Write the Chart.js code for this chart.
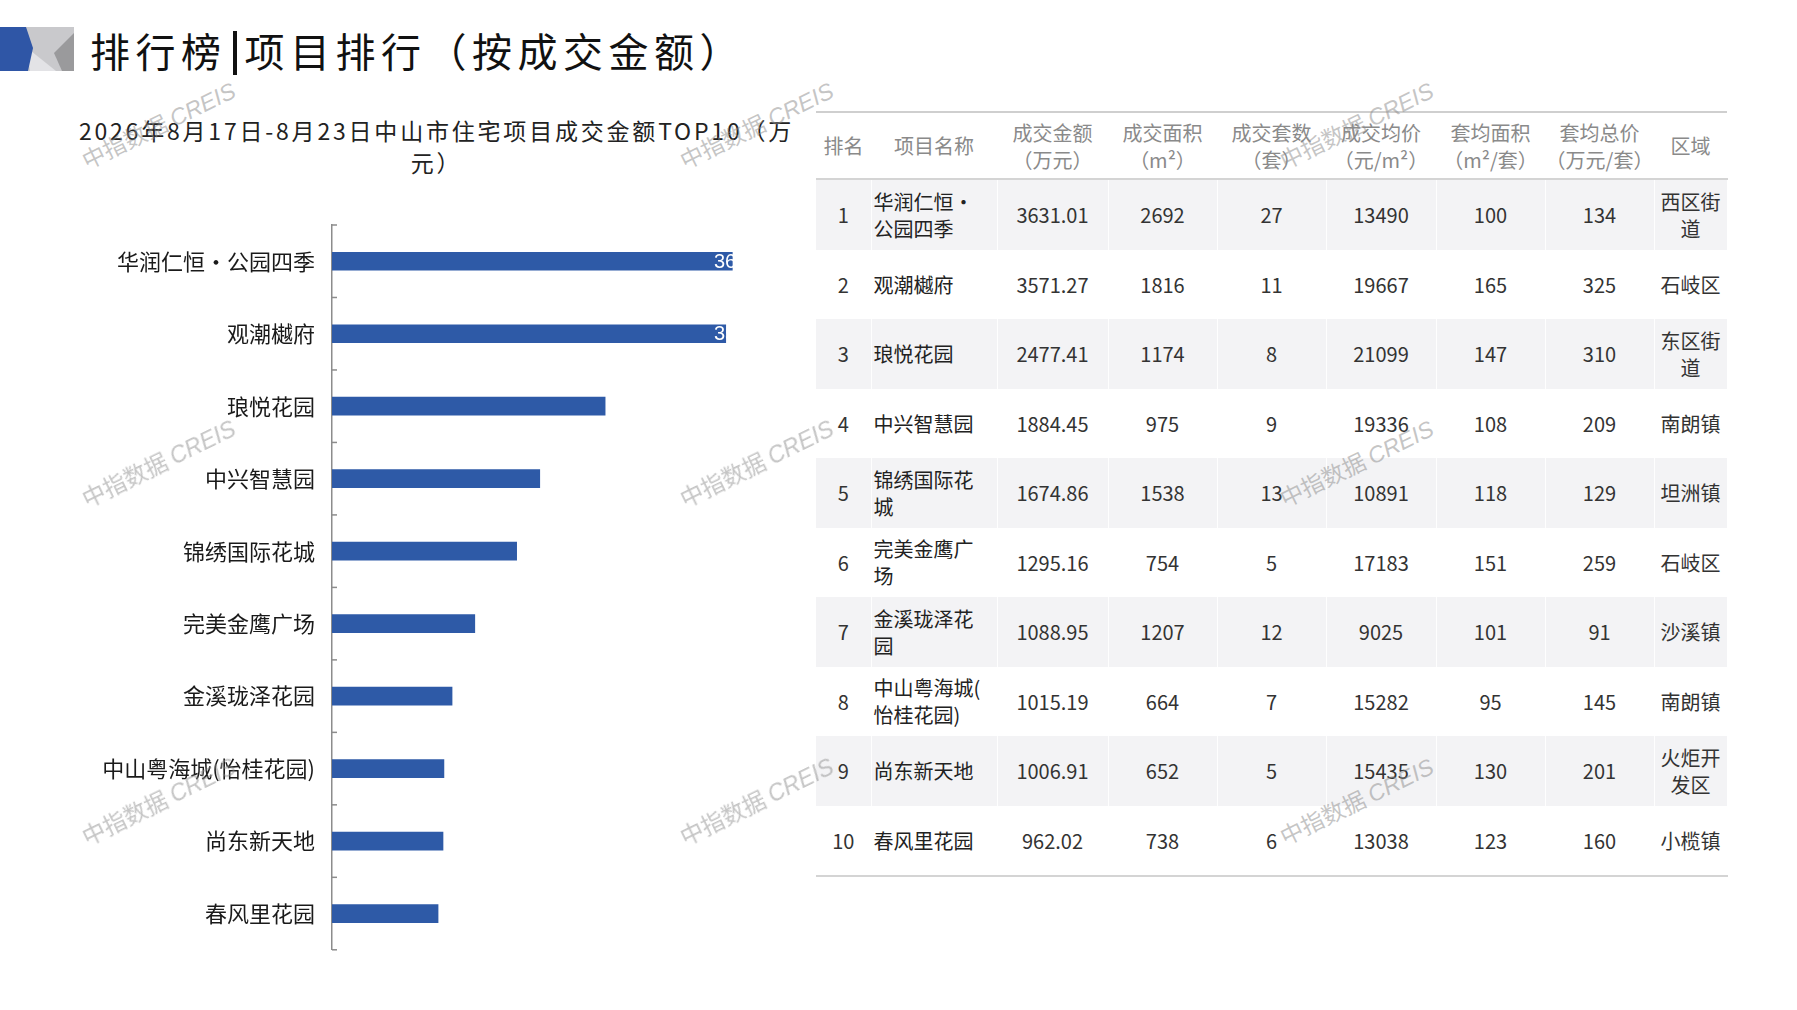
<!DOCTYPE html>
<html>
<head>
<meta charset="utf-8">
<script src="https://cdn.jsdelivr.net/npm/chart.js@4.4.1/dist/chart.umd.min.js"></script>
<style>
  body{margin:0;width:1797px;height:1010px;background:#fff;position:relative;overflow:hidden;
    font-family:"Noto Sans CJK SC","Noto Sans",sans-serif;color:#222;}
  #logo{position:absolute;left:0;top:27px;}
  #title{position:absolute;left:90px;top:24px;font-size:40px;line-height:52px;letter-spacing:5.5px;color:#111;white-space:nowrap;}
  #title .sep{display:inline-block;width:4px;height:44px;background:#111;vertical-align:-8px;margin:0 8px 0 6px;}
  #subtitle{position:absolute;left:64px;width:745px;top:114px;text-align:center;font-size:23px;line-height:32px;letter-spacing:2.8px;color:#222;}
  #chartBox{position:absolute;left:0;top:190px;width:800px;height:790px;}
  #tbl{position:absolute;left:816px;top:111px;width:911px;border-collapse:collapse;table-layout:fixed;font-size:20px;}
  #tbl th{font-weight:normal;color:#8a8a8a;line-height:27px;height:65px;padding:0;text-align:center;}
  #tbl thead tr{border-top:2px solid #cfcfcf;border-bottom:2px solid #d4d4d4;}
  #tbl td{height:69.5px;padding:0;text-align:center;color:#333;line-height:27px;border-right:1px solid rgba(255,255,255,0.9);}
  #tbl tbody tr:nth-child(odd){background:#f3f3f5;}
  #tbl tbody tr:last-child{border-bottom:2px solid #d4d4d4;}
  #tbl td.name{text-align:left;padding:0 12px 0 2px;color:#222;line-break:anywhere;word-break:break-all;}
  #tbl td.dist{padding:0 3px;color:#333;}
  .wm{position:absolute;font-family:"Noto Sans CJK SC",sans-serif;font-size:23px;color:rgba(140,140,140,0.5);
    white-space:nowrap;transform:translate(-50%,-50%) rotate(-26deg);pointer-events:none;z-index:10;}
  .wm i{font-family:"Liberation Sans",Arial,sans-serif;}
</style>
</head>
<body>
<svg id="logo" width="74" height="44" viewBox="0 0 74 44">
  <polygon points="26,0 74,0 74,44 26,44" fill="#c9c9cc"/>
  <polygon points="26,20 56,44 30,44" fill="#e3e3e6"/>
  <polygon points="54,26 74,6 74,44 62,44" fill="#9a9a9c"/>
  <polygon points="0,0 26,0 33,21 28,44 0,44" fill="#2f56a6"/>
</svg>
<div id="title">排行榜<span class="sep"></span>项目排行（按成交金额）</div>
<div id="subtitle">2026年8月17日-8月23日中山市住宅项目成交金额TOP10（万<br>元）</div>
<div id="chartBox"><canvas id="bar"></canvas></div>
<table id="tbl"><thead></thead><tbody></tbody></table>

<script>
// 项目与成交数据（万元 / ㎡ / 套 / 元/㎡）
const projects = ['华润仁恒•公园四季', '观潮樾府', '琅悦花园', '中兴智慧园', '锦绣国际花城',
  '完美金鹰广场', '金溪珑泽花园', '中山粤海城(怡桂花园)', '尚东新天地', '春风里花园'];
const amounts = [3631.01, 3571.27, 2477.41, 1884.45, 1674.86, 1295.16, 1088.95, 1015.19, 1006.91, 962.02];
const areas = [2692, 1816, 1174, 975, 1538, 754, 1207, 664, 652, 738];
const units = [27, 11, 8, 9, 13, 5, 12, 7, 5, 6];
const avgPrices = [13490, 19667, 21099, 19336, 10891, 17183, 9025, 15282, 15435, 13038];
const avgAreas = [100, 165, 147, 108, 118, 151, 101, 95, 130, 123];
const avgTotals = [134, 325, 310, 209, 129, 259, 91, 145, 201, 160];
const districts = ['西区街道', '石岐区', '东区街道', '南朗镇', '坦洲镇', '石岐区', '沙溪镇', '南朗镇', '火炬开发区', '小榄镇'];
const headers = [['排名'], ['项目名称'], ['成交金额', '（万元）'], ['成交面积', '（m²）'], ['成交套数', '（套）'],
  ['成交均价', '（元/m²）'], ['套均面积', '（m²/套）'], ['套均总价', '（万元/套）'], ['区域']];
const colWidths = [55, 126, 111, 109, 109, 110, 109, 109, 73];
const xMax = 4000;

// table
const thead = document.querySelector('#tbl thead');
const hr = document.createElement('tr');
headers.forEach(function (h, i) {
  const th = document.createElement('th');
  th.style.width = colWidths[i] + 'px';
  th.innerHTML = h.join('<br>');
  hr.appendChild(th);
});
thead.appendChild(hr);

const tbody = document.querySelector('#tbl tbody');
projects.forEach(function (p, i) {
  const tr = document.createElement('tr');
  const cells = [i + 1, p, amounts[i].toFixed(2), areas[i], units[i], avgPrices[i], avgAreas[i], avgTotals[i], districts[i]];
  cells.forEach(function (c, j) {
    const td = document.createElement('td');
    if (j === 1) td.className = 'name';
    if (j === 8) td.className = 'dist';
    td.textContent = c;
    tr.appendChild(td);
  });
  tbody.appendChild(tr);
});

// small inside tick marks between categories
const inTicks = {
  id: 'inTicks',
  afterDraw: function (chart) {
    const y = chart.scales.y, ctx = chart.ctx;
    const n = projects.length, step = (y.bottom - y.top) / n;
    ctx.save();
    ctx.strokeStyle = '#8c8c8c';
    ctx.lineWidth = 1.5;
    for (let k = 0; k <= n; k++) {
      const py = y.top + k * step;
      ctx.beginPath();
      ctx.moveTo(y.right, py);
      ctx.lineTo(y.right + 5, py);
      ctx.stroke();
    }
    ctx.restore();
  }
};

// white value labels (only visible where they overlap the bar)
const valueLabels = {
  id: 'valueLabels',
  afterDatasetsDraw: function (chart) {
    const ctx = chart.ctx;
    const meta = chart.getDatasetMeta(0);
    ctx.save();
    ctx.fillStyle = '#ffffff';
    ctx.font = '20px "Liberation Sans", Arial, sans-serif';
    ctx.textAlign = 'left';
    ctx.textBaseline = 'middle';
    meta.data.forEach(function (bar, i) {
      ctx.fillText(amounts[i].toFixed(2), chart.chartArea.right - 59, bar.y + 1);
    });
    ctx.restore();
  }
};

const ctx = document.getElementById('bar').getContext('2d');
const myChart = new Chart(ctx, {
  type: 'bar',
  data: {
    labels: projects,
    datasets: [{
      data: amounts,
      backgroundColor: '#2e5aa7',
      borderWidth: 0,
      barThickness: 18
    }]
  },
  options: {
    indexAxis: 'y',
    responsive: true,
    maintainAspectRatio: false,
    animation: false,
    devicePixelRatio: 1,
    layout: { padding: { top: 35, bottom: 22, right: 27, left: 0 } },
    plugins: { legend: { display: false }, tooltip: { enabled: false } },
    scales: {
      x: { display: false, min: 0, max: xMax },
      y: {
        afterFit: function (scale) { scale.width = 332; },
        grid: { drawOnChartArea: false, drawTicks: false },
        border: { display: true, color: '#8c8c8c', width: 1.5 },
        ticks: {
          padding: 17,
          color: '#1a1a1a',
          font: { family: '"Noto Sans CJK SC", sans-serif', size: 22 }
        }
      }
    }
  },
  plugins: [inTicks, valueLabels]
});

// watermarks
const wmX = [158, 756, 1356], wmY = [124, 462, 800];
wmY.forEach(function (yy) {
  wmX.forEach(function (xx) {
    const d = document.createElement('div');
    d.className = 'wm';
    d.innerHTML = '中指数据 <i>CREIS</i>';
    d.style.left = xx + 'px';
    d.style.top = yy + 'px';
    document.body.appendChild(d);
  });
});
</script>
</body>
</html>
